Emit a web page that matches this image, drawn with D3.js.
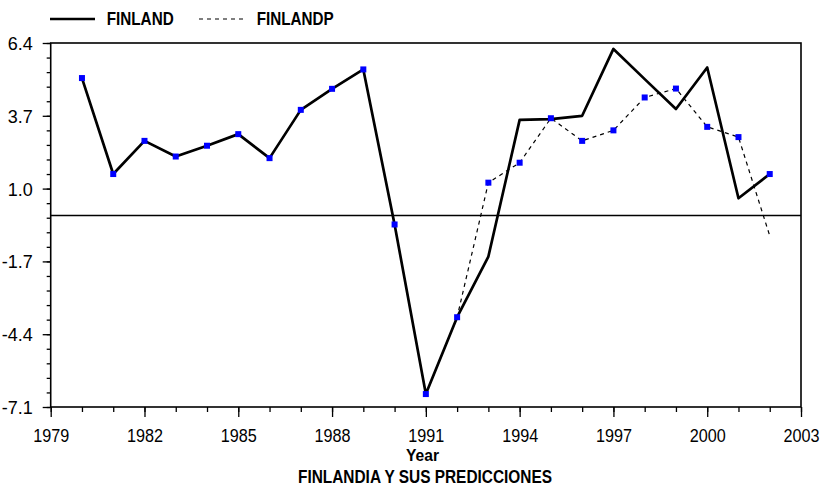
<!DOCTYPE html>
<html><head><meta charset="utf-8">
<script src="https://cdn.jsdelivr.net/npm/d3@7"></script>
<style>
body{margin:0;background:#fff;}
svg{display:block;}
text{font-family:"Liberation Sans Narrow","Liberation Sans",Arial,sans-serif;fill:#000;}
</style></head>
<body>
<svg id="chart" width="823" height="489"></svg>
<script>
const years = [1980,1981,1982,1983,1984,1985,1986,1987,1988,1989,1990,1991,1992,1993,1994,1995,1996,1997,1998,1999,2000,2001,2002];
const finland = [5.10,1.54,2.77,2.19,2.59,3.02,2.13,3.92,4.70,5.42,-0.33,-6.62,-3.77,-1.52,3.55,3.58,3.70,6.18,5.06,3.95,5.49,0.64,1.54];
const finlandp = [5.10,1.54,2.77,2.19,2.59,3.02,2.13,3.92,4.70,5.42,-0.33,-6.62,-3.77,1.22,1.96,3.61,2.77,3.16,4.38,4.71,3.29,2.91,-0.75];
const markerValues = [5.10,1.54,2.77,2.19,2.59,3.02,2.13,3.92,4.70,5.42,-0.33,-6.62,-3.77,1.22,1.96,3.61,2.77,3.16,4.38,4.71,3.29,2.91,1.54];
const yTickValues = [-7.1,-4.4,-1.7,1.0,3.7,6.4];
const xTickValues = [1979,1982,1985,1988,1991,1994,1997,2000,2003];
const seriesNames = ["FINLAND","FINLANDP"];
const xTitle = "Year";
const chartTitle = "FINLANDIA Y SUS PREDICCIONES";

(function(){
const svg = d3.select("#chart");
const mL = 50.7, mR = 801, mT = 43, mB = 407;
const x = d3.scaleLinear().domain([1979,2003]).range([mL,mR]);
const y = d3.scaleLinear().domain([-7.1,6.4]).range([mB,mT]);
const fmtY = d => d.toFixed(1);

// minor ticks
const yMinor = d3.range(0,26).map(i => -7.1 + i*0.54);
const xMinor = d3.range(1979,2004);

svg.append("g").attr("transform",`translate(${mL},0)`)
  .call(d3.axisLeft(y).tickValues(yMinor).tickSize(4).tickFormat(""))
  .call(g=>g.select(".domain").remove())
  .selectAll("line").attr("stroke","#000").attr("stroke-width",1.3);
svg.append("g").attr("transform",`translate(0,${mB})`)
  .call(d3.axisBottom(x).tickValues(xMinor).tickSize(5).tickFormat(""))
  .call(g=>g.select(".domain").remove())
  .selectAll("line").attr("stroke","#000").attr("stroke-width",1.3);

const yAxis = svg.append("g").attr("transform",`translate(${mL},0)`)
  .call(d3.axisLeft(y).tickValues(yTickValues).tickSize(8).tickPadding(10).tickFormat(fmtY));
yAxis.select(".domain").remove();
yAxis.selectAll("line").attr("stroke","#000").attr("stroke-width",1.3);
yAxis.selectAll("text").attr("font-size",18).attr("font-family",null).attr("dy","0.36em");

const xAxis = svg.append("g").attr("transform",`translate(0,${mB})`)
  .call(d3.axisBottom(x).tickValues(xTickValues).tickSize(10).tickPadding(6).tickFormat(d3.format("d")));
xAxis.select(".domain").remove();
xAxis.selectAll("line").attr("stroke","#000").attr("stroke-width",1.3);
xAxis.selectAll("text").attr("font-size",18).attr("font-family",null).attr("y",null).attr("dy",null)
  .attr("transform","translate(0,34.7)").attr("textLength",36).attr("lengthAdjust","spacingAndGlyphs");

// plot frame
svg.append("rect").attr("x",mL).attr("y",mT).attr("width",mR-mL).attr("height",mB-mT)
  .attr("fill","none").attr("stroke","#000").attr("stroke-width",1.6);
// zero line
svg.append("line").attr("x1",mL).attr("x2",mR).attr("y1",y(0)).attr("y2",y(0))
  .attr("stroke","#000").attr("stroke-width",1.6);

const line = d3.line().x((d,i)=>x(years[i])).y(d=>y(d));
svg.append("path").datum(finlandp).attr("d",line).attr("fill","none")
  .attr("stroke","#000").attr("stroke-width",1.2).attr("stroke-dasharray","4,4");
svg.append("path").datum(finland).attr("d",line).attr("fill","none")
  .attr("stroke","#000").attr("stroke-width",2.7).attr("stroke-linejoin","round");

svg.append("g").selectAll("rect").data(markerValues).join("rect")
  .attr("x",(d,i)=>x(years[i])-3).attr("y",d=>y(d)-3).attr("width",6).attr("height",6)
  .attr("fill","#0000ff");

// legend
svg.append("line").attr("x1",50).attr("x2",95).attr("y1",19).attr("y2",19).attr("stroke","#000").attr("stroke-width",2.7);
svg.append("text").attr("x",106.7).attr("y",25).attr("font-size",19).attr("font-weight","bold")
  .attr("textLength",67).attr("lengthAdjust","spacingAndGlyphs").text(seriesNames[0]);
svg.append("line").attr("x1",199).attr("x2",247).attr("y1",19).attr("y2",19).attr("stroke","#000").attr("stroke-width",1.2).attr("stroke-dasharray","4,4");
svg.append("text").attr("x",256.7).attr("y",25).attr("font-size",19).attr("font-weight","bold")
  .attr("textLength",77).attr("lengthAdjust","spacingAndGlyphs").text(seriesNames[1]);

// titles
svg.append("text").attr("x",422.5).attr("y",461).attr("text-anchor","middle").attr("font-size",16.5).attr("font-weight","bold")
  .attr("textLength",33).attr("lengthAdjust","spacingAndGlyphs").text(xTitle);
svg.append("text").attr("x",425).attr("y",483).attr("text-anchor","middle").attr("font-size",18).attr("font-weight","bold")
  .attr("textLength",254).attr("lengthAdjust","spacingAndGlyphs").text(chartTitle);
})();
</script>
</body></html>
